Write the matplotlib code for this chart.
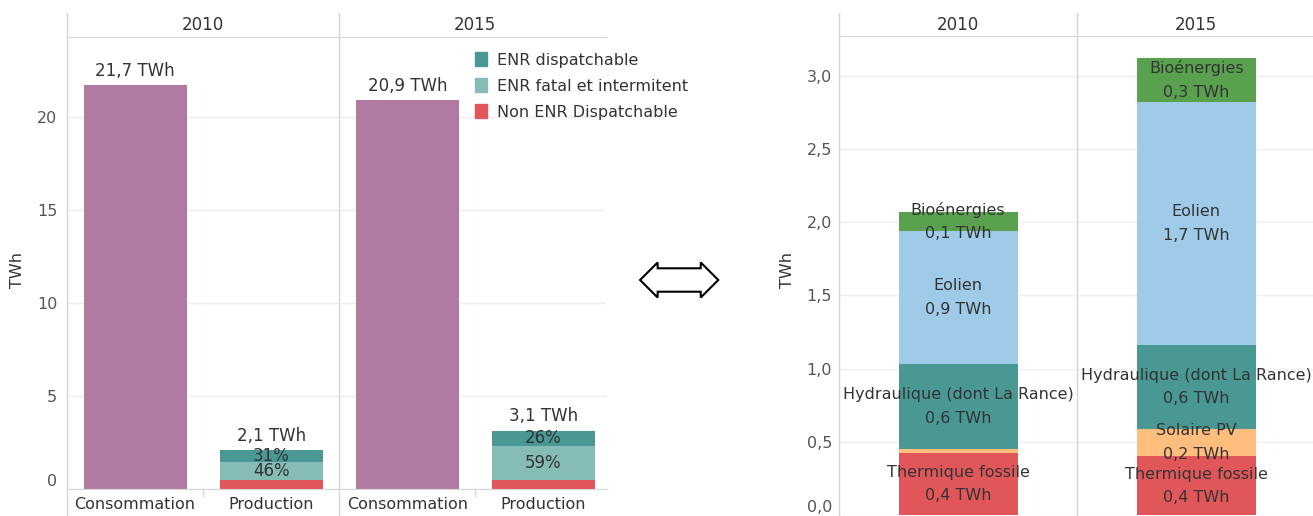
import matplotlib
matplotlib.use('Agg')
import matplotlib.pyplot as plt
from matplotlib.patches import Patch

# left panel: consommation vs production (TWh)
years = ['2010', '2015']
categories = ['Consommation', 'Production']
consommation = [21.7, 20.9]
non_enr_dispatch = [0.48, 0.47]
enr_fatal = [0.95, 1.84]
enr_dispatch = [0.64, 0.81]

# right panel: production per source (TWh)
sources = ['Thermique fossile', 'Solaire PV', 'Hydraulique (dont La Rance)', 'Eolien', 'Bioénergies']
prod_2010 = [0.42, 0.03, 0.58, 0.91, 0.13]
prod_2015 = [0.40, 0.19, 0.57, 1.66, 0.30]

PURPLE = '#b07aa1'
TEAL_DARK = '#499894'
TEAL_LIGHT = '#86bcb6'
RED = '#e15759'
source_colors = [RED, '#ffbe7d', TEAL_DARK, '#a0cbe8', '#59a14f']
LINE = '#d6d6d6'
GRID = '#efefef'
TXT = '#333333'

plt.rcParams['font.family'] = 'DejaVu Sans'
plt.rcParams['font.size'] = 11


def fr(v):
    return f'{v:.1f}'.replace('.', ',')


W, H = 1313, 516
def box(l, t, r, b):
    return [l / W, 1 - b / H, (r - l) / W, (b - t) / H]


fig = plt.figure(figsize=(W / 100, H / 100), dpi=100)

#********* left panel *********#
ax1 = fig.add_axes(box(67, 37, 606, 489))
cons_x = [0, 2]
prod_x = [1, 3]
ax1.bar(cons_x, consommation, width=0.757, color=PURPLE, zorder=2)
ax1.bar(prod_x, non_enr_dispatch, width=0.757, color=RED, zorder=2)
bot = non_enr_dispatch
ax1.bar(prod_x, enr_fatal, width=0.757, bottom=bot, color=TEAL_LIGHT, zorder=2)
bot2 = [a + b for a, b in zip(bot, enr_fatal)]
ax1.bar(prod_x, enr_dispatch, width=0.757, bottom=bot2, color=TEAL_DARK, zorder=2)
totals = [a + b for a, b in zip(bot2, enr_dispatch)]

for x, v in zip(cons_x, consommation):
    ax1.text(x, v + 0.3, fr(v) + ' TWh', ha='center', va='bottom', color=TXT, fontsize=12)
for i, x in enumerate(prod_x):
    t = totals[i]
    ax1.text(x, t + 0.3, fr(t) + ' TWh', ha='center', va='bottom', color=TXT, fontsize=12)
    ax1.text(x, bot[i] + enr_fatal[i] / 2, f'{round(100 * enr_fatal[i] / t)}%',
             ha='center', va='center', color=TXT, fontsize=12, zorder=3)
    ax1.text(x, bot2[i] + enr_dispatch[i] / 2, f'{round(100 * enr_dispatch[i] / t)}%',
             ha='center', va='center', color=TXT, fontsize=12, zorder=3)

ax1.set_xlim(-0.5, 3.46)
ax1.set_ylim(0, 24.3)
ax1.set_yticks([0, 5, 10, 15, 20])
ax1.set_xticks([0, 1, 2, 3], categories * 2)
ax1.tick_params(axis='y', length=0, pad=7, labelcolor='#555555', labelsize=11.5)
ax1.tick_params(axis='x', length=0, pad=6, labelcolor=TXT, labelsize=11.5)
ax1.get_yticklabels()[0].set_va('bottom')
ax1.yaxis.grid(color=GRID, lw=1, zorder=0)
ax1.set_axisbelow(True)
for s in ['left', 'right']:
    ax1.spines[s].set_visible(False)
for s in ['top', 'bottom']:
    ax1.spines[s].set_color(LINE)

tr1 = ax1.get_xaxis_transform()
for x in [-0.5, 1.5]:
    ax1.plot([x, x], [-0.07, 1.053], color=LINE, lw=1, transform=tr1, clip_on=False)
for x in [0.5, 2.5]:
    ax1.plot([x, x], [-0.015, 0], color=LINE, lw=1, transform=tr1, clip_on=False)
for x, yr in zip([0.5, 2.5], years):
    ax1.text(x, 1.027, yr, ha='center', va='center', color=TXT, fontsize=12, transform=tr1)

handles = [Patch(color=TEAL_DARK), Patch(color=TEAL_LIGHT), Patch(color=RED)]
ax1.legend(handles, ['ENR dispatchable', 'ENR fatal et intermitent', 'Non ENR Dispatchable'],
           loc='upper left', bbox_to_anchor=((475 - 67) / 539, 0.967), frameon=False,
           handlelength=0.75, handleheight=1.0, handletextpad=0.6, labelspacing=0.65,
           labelcolor=TXT, borderaxespad=0, borderpad=0, fontsize=11.5)

fig.text(18 / W, 1 - 270 / H, 'TWh', rotation=90, ha='center', va='center', color=TXT,
         fontsize=11.5)

#********* right panel *********#
ax2 = fig.add_axes(box(839, 36, 1313, 515))
bottom = [0, 0]
for k, name in enumerate(sources):
    vals = [prod_2010[k], prod_2015[k]]
    ax2.bar([0, 1], vals, width=0.5, bottom=bottom, color=source_colors[k], zorder=2)
    for x in range(2):
        if vals[x] >= 0.1:
            ax2.text(x, bottom[x] + vals[x] / 2, f'{name}\n{fr(vals[x])} TWh',
                     ha='center', va='center', linespacing=1.7, color=TXT,
                     fontsize=11.5, zorder=3)
    bottom = [b + v for b, v in zip(bottom, vals)]

ax2.set_xlim(-0.5, 1.49)
ax2.set_ylim(0, 3.27)
yt = [0, 0.5, 1.0, 1.5, 2.0, 2.5, 3.0]
ax2.set_yticks(yt, [fr(v) for v in yt])
ax2.set_xticks([])
ax2.tick_params(axis='y', length=0, pad=5, labelcolor='#555555', labelsize=11.5)
ax2.get_yticklabels()[0].set_va('bottom')
ax2.yaxis.grid(color=GRID, lw=1, zorder=0)
ax2.set_axisbelow(True)
for s in ['left', 'right', 'bottom']:
    ax2.spines[s].set_visible(False)
ax2.spines['top'].set_color(LINE)

tr2 = ax2.get_xaxis_transform()
for x in [-0.5, 0.5]:
    ax2.plot([x, x], [0, 1.048], color=LINE, lw=1, transform=tr2, clip_on=False)
for x, yr in zip([0, 1], years):
    ax2.text(x, 1.023, yr, ha='center', va='center', color=TXT, fontsize=12, transform=tr2)

fig.text(787 / W, 1 - 270 / H, 'TWh', rotation=90, ha='center', va='center', color=TXT,
         fontsize=11.5)

#********* double arrow between the two panels *********#
fig.text(678 / W, 1 - 280 / H, ' ' * 11, fontsize=13, family='Open Sans',
         ha='center', va='center',
         bbox=dict(boxstyle='darrow,pad=0.15', fc='white', ec='black', lw=1.5))

fig.savefig('out.png', dpi=100)
